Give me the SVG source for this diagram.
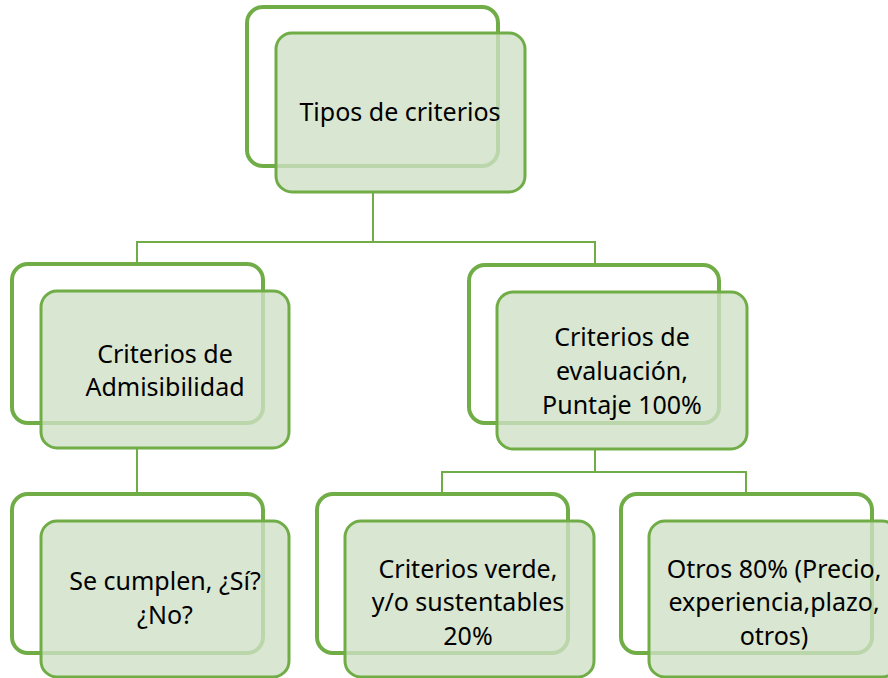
<svg xmlns="http://www.w3.org/2000/svg" width="888" height="678" viewBox="0 0 888 678">
<style>
.back{fill:none;stroke:#70AD47;stroke-width:4}
.front{fill:#d0e0c5;fill-opacity:0.8;stroke:#70AD47;stroke-width:3}
.conn{fill:none;stroke:#70AD47;stroke-width:2}
text{font-family:"Noto Sans","Open Sans",sans-serif;font-size:25px;fill:#000;text-anchor:middle}
</style>
<rect width="888" height="678" fill="#fff"/>
<g id="connectors">
<path class="conn" d="M373 192V242M137 264V242H595V265"/>
<path class="conn" d="M137 448V494"/>
<path class="conn" d="M595 449V472M442 494V472H746V494"/>
</g>
<g id="n0">
<rect class="back" x="247" y="7" width="251" height="159" rx="16"/>
<rect class="front" x="276" y="33" width="249" height="159" rx="16"/>
<text x="400" y="121">Tipos de criterios</text>
</g>
<g id="n1">
<rect class="back" x="12" y="264" width="251" height="159" rx="16"/>
<rect class="front" x="41" y="291" width="248" height="157" rx="16"/>
<text x="165" y="363">Criterios de</text>
<text x="165" y="396">Admisibilidad</text>
</g>
<g id="n2">
<rect class="back" x="469" y="265" width="250" height="158" rx="16"/>
<rect class="front" x="497" y="292" width="250" height="157" rx="16"/>
<text x="622" y="346">Criterios de</text>
<text x="622" y="380">evaluación,</text>
<text x="622" y="414">Puntaje 100%</text>
</g>
<g id="n3">
<rect class="back" x="12" y="494" width="251" height="159" rx="16"/>
<rect class="front" x="41" y="521" width="248" height="156" rx="16"/>
<text x="165" y="590">Se cumplen, ¿Sí?</text>
<text x="165" y="624">¿No?</text>
</g>
<g id="n4">
<rect class="back" x="317" y="494" width="251" height="159" rx="16"/>
<rect class="front" x="345" y="521" width="249" height="156" rx="16"/>
<text x="468" y="578">Criterios verde,</text>
<text x="468" y="611">y/o sustentables</text>
<text x="468" y="645">20%</text>
</g>
<g id="n5">
<rect class="back" x="621" y="494" width="251" height="159" rx="16"/>
<rect class="front" x="649" y="521" width="249" height="156" rx="16"/>
<text x="774" y="578">Otros 80% (Precio,</text>
<text x="774" y="611">experiencia,plazo,</text>
<text x="774" y="645">otros)</text>
</g>
</svg>
